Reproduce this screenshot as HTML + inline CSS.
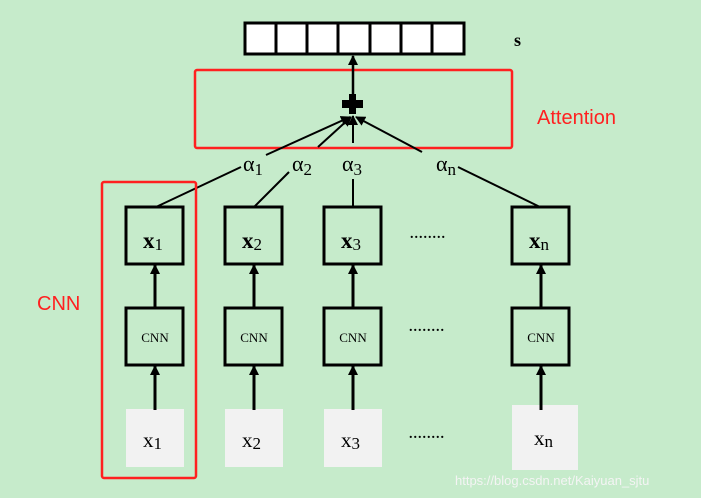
<!DOCTYPE html>
<html><head><meta charset="utf-8"><style>
html,body{margin:0;padding:0;background:#c6ebcb;}
svg{display:block}
.t{font-family:"Liberation Serif",serif;}
</style></head><body>
<svg width="701" height="498" viewBox="0 0 701 498" xmlns="http://www.w3.org/2000/svg">
<defs><marker id="a" markerWidth="10" markerHeight="10" refX="9" refY="5" orient="auto" markerUnits="userSpaceOnUse"><path d="M0,0 L10,5 L0,10 Z" fill="#000"/></marker></defs>
<rect width="701" height="498" fill="#c6ebcb"/>
<rect x="245" y="23" width="219" height="31" fill="#fff" stroke="#000" stroke-width="3"/>
<g stroke="#000" stroke-width="3">
<line x1="276" y1="23" x2="276" y2="54"/><line x1="307" y1="23" x2="307" y2="54"/><line x1="338" y1="23" x2="338" y2="54"/><line x1="370" y1="23" x2="370" y2="54"/><line x1="401" y1="23" x2="401" y2="54"/><line x1="432" y1="23" x2="432" y2="54"/>
</g>
<text x="514" y="46" class="t" font-size="18" font-weight="bold">s</text>
<rect x="195" y="70" width="317" height="78" fill="none" stroke="#ff2020" stroke-width="2.5" rx="2"/>
<text x="537" y="124" font-family="Liberation Sans,sans-serif" font-size="20" fill="#ff2020">Attention</text>
<line x1="353" y1="94" x2="353" y2="56" stroke="#000" stroke-width="2.5" marker-end="url(#a)"/>
<rect x="349" y="94" width="7" height="20" fill="#000"/>
<rect x="342" y="100" width="21" height="8" fill="#000"/>
<g stroke="#000" stroke-width="2">
<line x1="156" y1="207" x2="241" y2="167"/>
<line x1="266" y1="155" x2="350" y2="117" marker-end="url(#a)"/>
<line x1="254" y1="207" x2="289" y2="172"/>
<line x1="318" y1="147" x2="351" y2="117" marker-end="url(#a)"/>
<line x1="353" y1="207" x2="353" y2="179"/>
<line x1="353" y1="143" x2="353" y2="116" marker-end="url(#a)"/>
<line x1="540" y1="207" x2="458" y2="167"/>
<line x1="422" y1="152" x2="356" y2="117" marker-end="url(#a)"/>
</g>
<g class="t" font-size="22">
<text x="243" y="171">α<tspan font-size="17" dy="4">1</tspan></text>
<text x="292" y="171">α<tspan font-size="17" dy="4">2</tspan></text>
<text x="342" y="171">α<tspan font-size="17" dy="4">3</tspan></text>
<text x="436" y="171">α<tspan font-size="17" dy="4">n</tspan></text>
</g>
<rect x="102" y="182" width="94" height="296" fill="none" stroke="#ff2020" stroke-width="2.5" rx="2"/>
<text x="37" y="310" font-family="Liberation Sans,sans-serif" font-size="20" fill="#ff2020">CNN</text>
<g stroke="#000" stroke-width="3" fill="none">
<rect x="126" y="207" width="57" height="57"/><rect x="225" y="207" width="57" height="57"/><rect x="324" y="207" width="57" height="57"/><rect x="512" y="207" width="57" height="57"/>
<rect x="126" y="308" width="57" height="57"/><rect x="225" y="308" width="57" height="57"/><rect x="324" y="308" width="57" height="57"/><rect x="512" y="308" width="57" height="57"/>
</g>
<g fill="#f2f2f2">
<rect x="126" y="409" width="58" height="58"/><rect x="225" y="409" width="58" height="58"/><rect x="324" y="409" width="58" height="58"/><rect x="512" y="405" width="66" height="65"/>
</g>
<g stroke="#000" stroke-width="3">
<line x1="155" y1="308" x2="155" y2="265" marker-end="url(#a)"/><line x1="254" y1="308" x2="254" y2="265" marker-end="url(#a)"/><line x1="353" y1="308" x2="353" y2="265" marker-end="url(#a)"/><line x1="541" y1="308" x2="541" y2="265" marker-end="url(#a)"/>
<line x1="155" y1="410" x2="155" y2="366" marker-end="url(#a)"/><line x1="254" y1="410" x2="254" y2="366" marker-end="url(#a)"/><line x1="353" y1="410" x2="353" y2="366" marker-end="url(#a)"/><line x1="541" y1="410" x2="541" y2="366" marker-end="url(#a)"/>
</g>
<g class="t" font-size="23" font-weight="bold">
<text x="143" y="248">x<tspan font-weight="normal" font-size="17" dy="2">1</tspan></text>
<text x="242" y="248">x<tspan font-weight="normal" font-size="17" dy="2">2</tspan></text>
<text x="341" y="248">x<tspan font-weight="normal" font-size="17" dy="2">3</tspan></text>
<text x="529" y="248">x<tspan font-weight="normal" font-size="17" dy="2">n</tspan></text>
</g>
<g class="t" font-size="13" text-anchor="middle">
<text x="155" y="342">CNN</text><text x="254" y="342">CNN</text><text x="353" y="342">CNN</text><text x="541" y="342">CNN</text>
</g>
<g class="t" font-size="21">
<text x="143" y="447">x<tspan font-size="17" dy="2">1</tspan></text>
<text x="242" y="447">x<tspan font-size="17" dy="2">2</tspan></text>
<text x="341" y="447">x<tspan font-size="17" dy="2">3</tspan></text>
<text x="534" y="445">x<tspan font-size="17" dy="2">n</tspan></text>
</g>
<g font-family="Liberation Serif,serif" font-size="14" font-weight="bold">
<text x="410" y="238" letter-spacing="1">........</text>
<text x="409" y="331" letter-spacing="1">........</text>
<text x="409" y="438" letter-spacing="1">........</text>
</g>
<text x="455" y="485" font-family="Liberation Sans,sans-serif" font-size="13" fill="#f4f4f4">https://blog.csdn.net/Kaiyuan_sjtu</text>
</svg>
</body></html>
